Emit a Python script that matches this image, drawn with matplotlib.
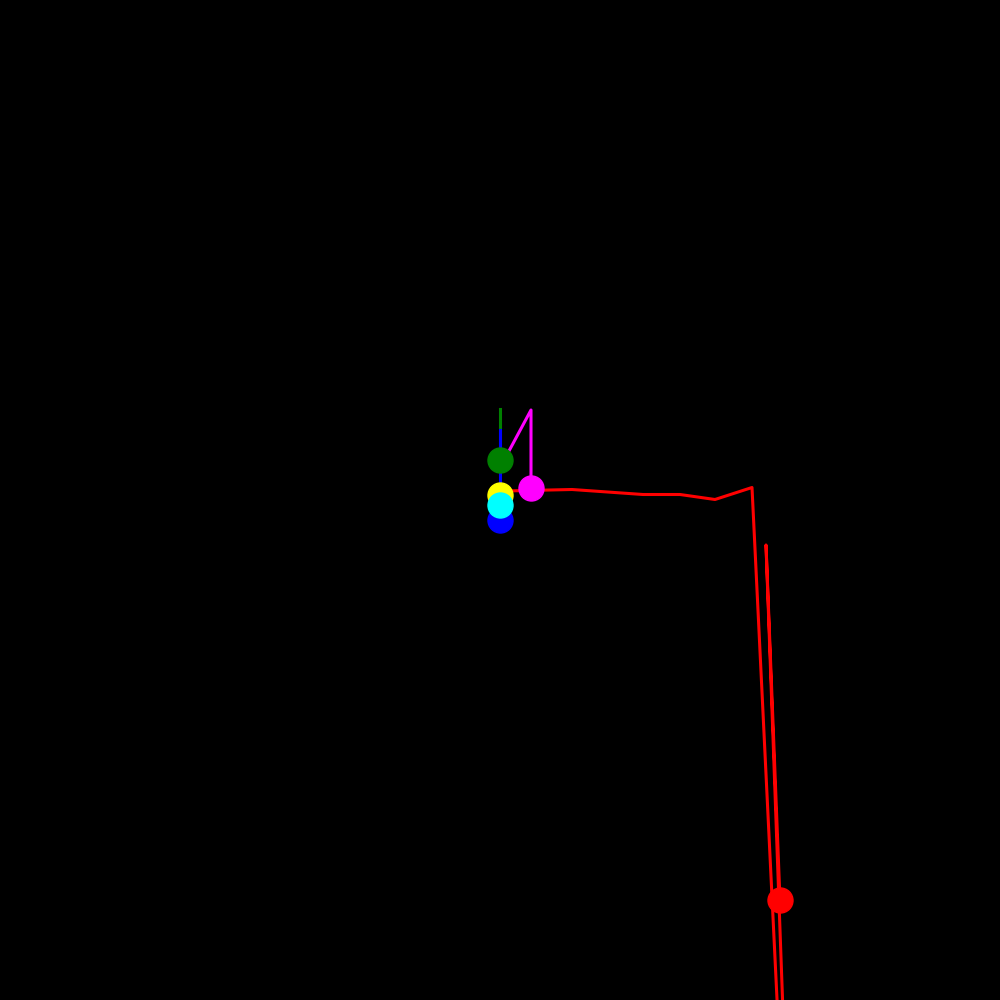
import matplotlib
matplotlib.use("Agg")
import matplotlib.pyplot as plt

# trails (x, y) per body, last point = current position
red_x = [0.05, 0.72, 1.43, 1.80, 2.15, 2.52, 2.79, 2.84, 2.66, 2.80]
red_y = [0.09, 0.105, 0.055, 0.055, 0.005, 0.125, -5.40, -5.40, -0.45, -4.00]

blue_x = [0.0, 0.0]
blue_y = [0.70, -0.20]

green_x = [0.0, 0.0]
green_y = [0.91, 0.40]

magenta_x = [0.02, 0.31, 0.31]
magenta_y = [0.36, 0.90, 0.12]

yellow_x = [0.0]
yellow_y = [0.05]

cyan_x = [0.0]
cyan_y = [-0.05]

bodies = [
    (green_x, green_y, "green"),
    (blue_x, blue_y, "blue"),
    (magenta_x, magenta_y, "magenta"),
    (red_x, red_y, "red"),
]
markers = [
    (yellow_x, yellow_y, "yellow"),
    (blue_x, blue_y, "blue"),
    (cyan_x, cyan_y, "cyan"),
    (green_x, green_y, "green"),
    (magenta_x, magenta_y, "magenta"),
    (red_x, red_y, "red"),
]

fig = plt.figure(figsize=(10, 10), dpi=100, facecolor="black")
ax = fig.add_axes([0, 0, 1, 1])
ax.set_facecolor("black")

for xs, ys, c in bodies:
    ax.plot(xs, ys, color=c, lw=2.2, zorder=1)

for xs, ys, c in markers:
    ax.plot(xs[-1], ys[-1], "o", color=c, ms=18, zorder=2)

ax.set_xlim(-5, 5)
ax.set_ylim(-5, 5)
ax.axis("off")

fig.savefig("out.png", facecolor="black")
